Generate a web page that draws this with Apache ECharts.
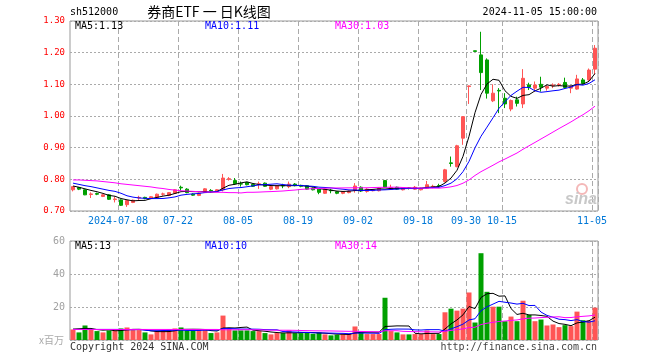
<!DOCTYPE html>
<html><head><meta charset="utf-8">
<script src="https://cdn.jsdelivr.net/npm/echarts@6/dist/echarts.min.js"></script>
<style>html,body{margin:0;padding:0;background:#fff}#c{width:660px;height:360px}</style>
</head><body><div id="c"></div>
<script>
const dates = ['2024-06-26','2024-06-27','2024-06-28','2024-07-01','2024-07-02','2024-07-03','2024-07-04','2024-07-05','2024-07-08','2024-07-09',
'2024-07-10','2024-07-11','2024-07-12','2024-07-15','2024-07-16','2024-07-17','2024-07-18','2024-07-19','2024-07-22','2024-07-23',
'2024-07-24','2024-07-25','2024-07-26','2024-07-29','2024-07-30','2024-07-31','2024-08-01','2024-08-02','2024-08-05','2024-08-06',
'2024-08-07','2024-08-08','2024-08-09','2024-08-12','2024-08-13','2024-08-14','2024-08-15','2024-08-16','2024-08-19','2024-08-20',
'2024-08-21','2024-08-22','2024-08-23','2024-08-26','2024-08-27','2024-08-28','2024-08-29','2024-08-30','2024-09-02','2024-09-03',
'2024-09-04','2024-09-05','2024-09-06','2024-09-09','2024-09-10','2024-09-11','2024-09-12','2024-09-13','2024-09-18','2024-09-19',
'2024-09-20','2024-09-23','2024-09-24','2024-09-25','2024-09-26','2024-09-27','2024-09-30','2024-10-08','2024-10-09','2024-10-10',
'2024-10-11','2024-10-14','2024-10-15','2024-10-16','2024-10-17','2024-10-18','2024-10-21','2024-10-22','2024-10-23','2024-10-24',
'2024-10-25','2024-10-28','2024-10-29','2024-10-30','2024-10-31','2024-11-01','2024-11-04','2024-11-05'];

const opens = [0.767,0.774,0.767,0.752,0.755,0.746,0.751,0.736,0.735,0.720,
0.727,0.741,0.743,0.741,0.743,0.753,0.749,0.756,0.775,0.769,
0.753,0.749,0.758,0.765,0.762,0.767,0.800,0.796,0.786,0.790,
0.784,0.784,0.788,0.769,0.770,0.781,0.777,0.785,0.781,0.780,
0.772,0.769,0.756,0.766,0.761,0.756,0.758,0.765,0.775,0.762,
0.764,0.764,0.796,0.769,0.775,0.767,0.773,0.769,0.767,0.772,
0.776,0.780,0.793,0.852,0.840,0.930,1.093,1.206,1.193,1.177,
1.048,1.081,1.056,1.022,1.051,1.038,1.098,1.088,1.100,1.088,
1.096,1.098,1.106,1.088,1.085,1.114,1.114,1.148];
const closes = [0.777,0.769,0.751,0.754,0.753,0.751,0.737,0.738,0.718,0.733,
0.734,0.743,0.740,0.745,0.753,0.754,0.758,0.767,0.773,0.758,
0.750,0.756,0.770,0.763,0.767,0.804,0.802,0.786,0.785,0.783,
0.778,0.786,0.778,0.777,0.780,0.779,0.785,0.780,0.778,0.769,
0.767,0.759,0.769,0.764,0.756,0.761,0.763,0.779,0.763,0.769,
0.767,0.772,0.775,0.774,0.769,0.772,0.771,0.775,0.772,0.783,
0.778,0.779,0.830,0.850,0.906,0.998,1.095,1.204,1.137,1.072,
1.072,1.079,1.038,1.049,1.040,1.119,1.091,1.098,1.091,1.093,
1.098,1.100,1.090,1.093,1.117,1.103,1.145,1.214];
const lows = [0.762,0.766,0.750,0.741,0.750,0.744,0.735,0.727,0.716,0.713,
0.725,0.735,0.737,0.739,0.741,0.748,0.747,0.755,0.764,0.756,
0.748,0.747,0.757,0.758,0.760,0.762,0.796,0.783,0.777,0.781,
0.776,0.770,0.776,0.766,0.768,0.772,0.772,0.778,0.775,0.767,
0.765,0.753,0.754,0.756,0.753,0.753,0.756,0.758,0.760,0.758,
0.762,0.762,0.773,0.767,0.767,0.765,0.768,0.767,0.765,0.770,
0.772,0.774,0.790,0.840,0.838,0.909,1.038,1.204,1.082,1.055,
1.044,1.009,1.025,1.015,1.030,1.025,1.082,1.077,1.077,1.080,
1.088,1.093,1.086,1.072,1.083,1.100,1.109,1.130];
const highs = [0.779,0.776,0.768,0.759,0.758,0.753,0.753,0.746,0.737,0.734,
0.736,0.748,0.745,0.747,0.755,0.758,0.760,0.769,0.780,0.772,
0.756,0.758,0.772,0.769,0.769,0.817,0.807,0.804,0.793,0.792,
0.786,0.793,0.790,0.779,0.782,0.786,0.793,0.788,0.783,0.782,
0.774,0.771,0.771,0.770,0.763,0.763,0.765,0.788,0.778,0.772,
0.769,0.775,0.798,0.783,0.777,0.774,0.775,0.779,0.774,0.795,
0.783,0.786,0.833,0.872,0.909,1.000,1.096,1.206,1.266,1.182,
1.100,1.088,1.072,1.052,1.061,1.148,1.105,1.109,1.124,1.097,
1.103,1.104,1.121,1.096,1.130,1.120,1.150,1.224];
const volumes = [6.4,4.6,8.8,6.4,5.4,4.6,5.8,5.8,7.0,7.6,
6.0,6.0,4.6,3.4,5.6,5.6,6.4,7.0,7.6,5.8,
5.8,6.2,6.4,4.2,4.6,14.8,7.0,5.8,5.8,5.8,
5.4,5.4,4.2,3.4,4.2,4.2,5.8,4.2,4.2,4.6,
3.8,4.6,3.4,2.8,3.2,3.6,3.6,8.2,4.6,3.6,
3.6,3.6,25.6,5.4,4.6,3.4,3.4,3.6,3.6,5.8,
3.6,3.6,16.8,19.0,17.8,19.0,28.8,10.6,52.6,29.2,
20.2,20.2,11.4,14.2,11.4,23.8,15.2,11.4,12.4,8.8,
9.4,7.8,9.0,8.4,17.2,12.0,11.8,19.6];

// moving-average values at the left edge (history before the first bar)
const ma5Head = [0.779,0.775,0.770,0.765];
const ma10Head = [0.788,0.784,0.780,0.777,0.773,0.769,0.765,0.762,0.756];
const ma30Head = [0.798,0.798,0.797,0.796,0.795,0.793,0.791,0.789,0.786,0.784,0.782,0.780,0.778,0.776,0.773,0.771,0.768,0.766,0.764,0.763,0.762,0.761,0.760,0.760,0.759,0.759,0.758,0.758,0.757];
const vma5Head = [6.6,6.8,7.0,7.0];
const vma10Head = [6.4,6.4,6.4,6.4,6.4,6.4,6.4,6.4,6.4];
const vma30Head = [6.4,6.4,6.4,6.4,6.4,6.4,6.4,6.4,6.4,6.4,6.4,6.4,6.4,6.4,6.4,6.4,6.4,6.4,6.4,6.4,6.4,6.4,6.4,6.4,6.4,6.2,6.2,6.2,6.2];

const tickDates = ['2024-07-08','2024-07-22','2024-08-05','2024-08-19','2024-09-02','2024-09-18','2024-09-30','2024-10-15','2024-11-05'];
const tickLabels = ['2024-07-08','07-22','08-05','08-19','09-02','09-18','09-30','10-15','11-05'];

const priceLegend = ['MA5:1.13','MA10:1.11','MA30:1.03'];
const volLegend = ['MA5:13','MA10:10','MA30:14'];

const RED = '#ff5555', GREEN = '#00a000';
const MONO = '"DejaVu Sans Mono", "Liberation Mono", monospace';

function movingAvg(values, n, head) {
  return values.map((v, i) => {
    if (i < n - 1) return head[i];
    let s = 0;
    for (let k = i - n + 1; k <= i; k++) s += values[k];
    return +(s / n).toFixed(4);
  });
}

const kData = dates.map((d, i) => [opens[i], closes[i], lows[i], highs[i]]);
const volData = volumes.map((v, i) => ({value: v, itemStyle: {color: closes[i] >= opens[i] ? RED : GREEN}}));

const tickInterval = (idx) => tickDates.indexOf(dates[idx]) >= 0;
const splitV = {show: true, interval: tickInterval, lineStyle: {color: '#aaaaaa', width: 1, type: [5, 3]}};
const splitH = {show: true, lineStyle: {color: '#aaaaaa', width: 1, type: [2, 2]}};

function lineSeries(data, color, xi, yi) {
  return {type: 'line', data: data, xAxisIndex: xi, yAxisIndex: yi, symbol: 'none', silent: true, z: 5,
    lineStyle: {color: color, width: 1}, itemStyle: {color: color}};
}

function txt(x, y, text, fill, opts) {
  opts = opts || {};
  return {type: 'text', x: x, y: y, silent: true, z: 100,
    style: {text: text, fill: fill, font: opts.font || ('10px ' + MONO),
      textAlign: opts.align || 'left', textVerticalAlign: 'middle'}};
}

const chart = echarts.init(document.getElementById('c'), null, {renderer: 'canvas'});
chart.setOption({
  animation: false,
  backgroundColor: '#ffffff',
  grid: [
    {left: 70, top: 21, width: 528, height: 190, show: true, borderColor: '#999999', borderWidth: 1, backgroundColor: 'transparent'},
    {left: 70, top: 241, width: 528, height: 99, show: true, borderColor: '#999999', borderWidth: 1, backgroundColor: 'transparent'}
  ],
  xAxis: [
    {type: 'category', gridIndex: 0, data: dates, boundaryGap: true,
      axisLine: {show: false}, axisTick: {show: false},
      axisLabel: {interval: tickInterval, formatter: (v) => tickLabels[tickDates.indexOf(v)] || '',
        color: '#0078d7', fontFamily: MONO, fontSize: 10, margin: 5, padding: [0, 6, 0, 0]},
      splitLine: splitV},
    {type: 'category', gridIndex: 1, data: dates, boundaryGap: true,
      axisLine: {show: false}, axisTick: {show: false}, axisLabel: {show: false},
      splitLine: splitV}
  ],
  yAxis: [
    {type: 'value', gridIndex: 0, min: 0.7, max: 1.3, interval: 0.1, scale: false,
      axisLine: {show: false}, axisTick: {show: false},
      axisLabel: {formatter: (v) => v.toFixed(2), color: '#ff0000', fontFamily: MONO, fontSize: 9, margin: 5},
      splitLine: splitH},
    {type: 'value', gridIndex: 1, min: 0, max: 60, interval: 20,
      axisLine: {show: false}, axisTick: {show: false},
      axisLabel: {formatter: (v) => v === 0 ? '' : String(v), color: '#a0a0a0', fontFamily: MONO, fontSize: 10, margin: 5},
      splitLine: splitH}
  ],
  series: [
    {type: 'candlestick', data: kData, xAxisIndex: 0, yAxisIndex: 0, barWidth: 4, silent: true, z: 3,
      itemStyle: {color: RED, color0: GREEN, borderColor: RED, borderColor0: GREEN, borderWidth: 1}},
    lineSeries(movingAvg(closes, 5, ma5Head), '#000000', 0, 0),
    lineSeries(movingAvg(closes, 10, ma10Head), '#0000ff', 0, 0),
    lineSeries(movingAvg(closes, 30, ma30Head), '#ff00ff', 0, 0),
    {type: 'bar', data: volData, xAxisIndex: 1, yAxisIndex: 1, barWidth: 5, silent: true, z: 3},
    lineSeries(movingAvg(volumes, 5, vma5Head), '#000000', 1, 1),
    lineSeries(movingAvg(volumes, 10, vma10Head), '#0000ff', 1, 1),
    lineSeries(movingAvg(volumes, 30, vma30Head), '#ff00ff', 1, 1)
  ],
  graphic: [
    txt(70, 12, 'sh512000', '#000000'),
    txt(209, 12, '券商ETF 一 日K线图', '#000000', {align: 'center', font: '14px "Noto Sans CJK SC", sans-serif'}),
    txt(597, 12, '2024-11-05 15:00:00', '#000000', {align: 'right'}),
    txt(75, 26, priceLegend[0], '#000000'),
    txt(205, 26, priceLegend[1], '#0000ff'),
    txt(335, 26, priceLegend[2], '#ff00ff'),
    txt(75, 246, volLegend[0], '#000000'),
    txt(205, 246, volLegend[1], '#0000ff'),
    txt(335, 246, volLegend[2], '#ff00ff'),
    txt(64, 340, 'x百万', '#aaaaaa', {align: 'right', font: '10px "Noto Sans CJK SC", sans-serif'}),
    txt(70, 347, 'Copyright 2024 SINA.COM', '#333333'),
    txt(597, 347, 'http://finance.sina.com.cn', '#444444', {align: 'right'}),
    {type: 'circle', shape: {cx: 582, cy: 189, r: 5}, silent: true, z: 2,
      style: {fill: 'none', stroke: '#f4b8b8', lineWidth: 2}},
    txt(597, 200, 'sina', '#c8c8c8', {align: 'right', font: 'italic bold 16px "Liberation Sans", sans-serif'})
  ]
});
</script></body></html>
